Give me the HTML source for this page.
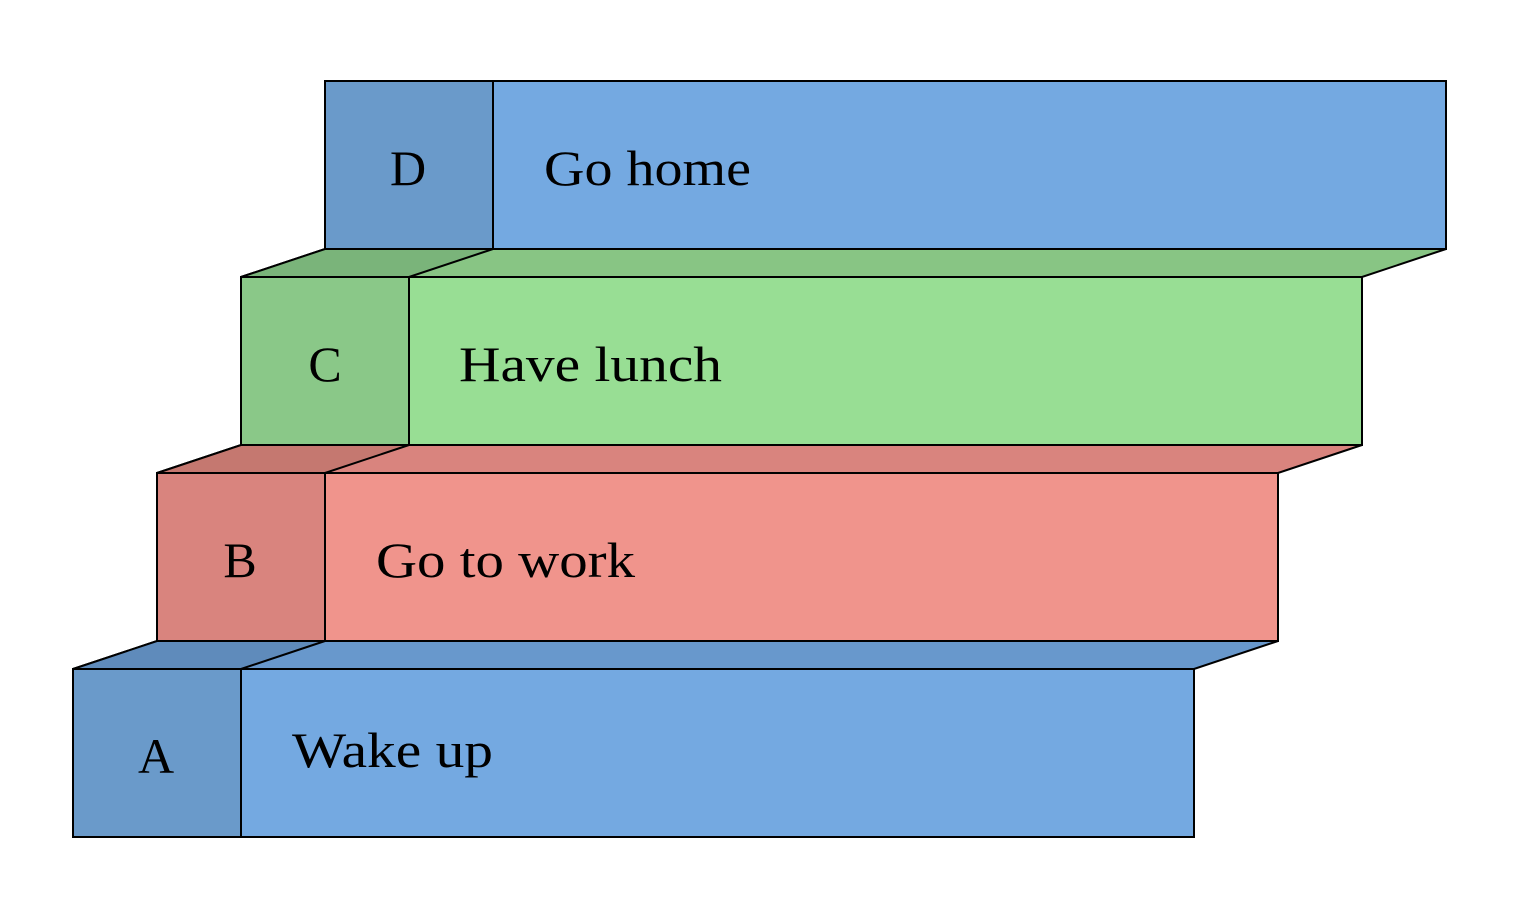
<!DOCTYPE html>
<html><head><style>body{margin:0;background:#fff}svg{display:block}</style></head><body>
<svg width="1536" height="900" xmlns="http://www.w3.org/2000/svg" font-family="Liberation Serif, serif" font-size="50" stroke="#000" stroke-width="2">
<!-- A -->
<polygon points="73,669 157,641 1278,641 1194,669" fill="#6898cc"/>
<polygon points="73,669 157,641 325,641 241,669" fill="#5f8bbb"/>
<rect x="73" y="669" width="168" height="168" fill="#6a9aca"/>
<rect x="241" y="669" width="953" height="168" fill="#74a9e1"/>
<!-- B -->
<polygon points="157,473 241,445 1362,445 1278,473" fill="#d9847e"/>
<polygon points="157,473 241,445 409,445 325,473" fill="#c57870"/>
<rect x="157" y="473" width="168" height="168" fill="#d9847e"/>
<rect x="325" y="473" width="953" height="168" fill="#f0948c"/>
<!-- C -->
<polygon points="241,277 325,249 1446,249 1362,277" fill="#88c584"/>
<polygon points="241,277 325,249 493,249 409,277" fill="#7ab47a"/>
<rect x="241" y="277" width="168" height="168" fill="#8ac888"/>
<rect x="409" y="277" width="953" height="168" fill="#98de94"/>
<!-- D -->
<rect x="325" y="81" width="168" height="168" fill="#6a9aca"/>
<rect x="493" y="81" width="953" height="168" fill="#74a9e1"/>
<g stroke="none" fill="#000">
<text x="408" y="185" text-anchor="middle">D</text>
<text x="544" y="185" textLength="207" lengthAdjust="spacingAndGlyphs">Go home</text>
<text x="325" y="381" text-anchor="middle">C</text>
<text x="459" y="381" textLength="263" lengthAdjust="spacingAndGlyphs">Have lunch</text>
<text x="240" y="577" text-anchor="middle">B</text>
<text x="376" y="577" textLength="259" lengthAdjust="spacingAndGlyphs">Go to work</text>
<text x="156" y="773" text-anchor="middle">A</text>
<text x="292" y="767" textLength="201" lengthAdjust="spacingAndGlyphs">Wake up</text>
</g>
</svg>
</body></html>
